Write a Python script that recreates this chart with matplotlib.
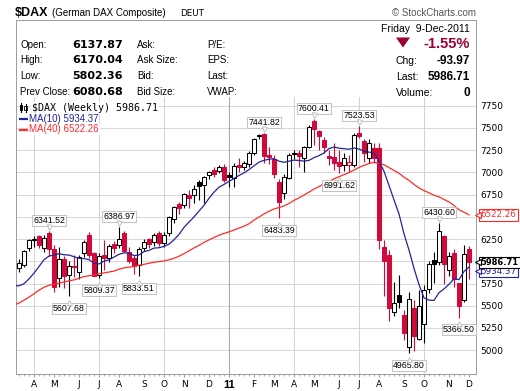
import numpy as np
import pandas as pd
import matplotlib
matplotlib.use('Agg')
import matplotlib.pyplot as plt
import matplotlib.transforms as mtransforms
from matplotlib.patches import Rectangle, Polygon
from matplotlib.lines import Line2D

# $DAX weekly candles, weeks ending on Friday
dates = pd.date_range('2010-03-19', '2011-12-09', freq='W-FRI')

opens = [5920, 5960, 6145, 6235, 6284, 6150, 6320, 6135, 5810, 6030,
         5845, 5950, 5885, 6090, 6300, 6089, 5846, 6070, 6040, 6200,
         6185, 6322, 6108, 6033, 5958, 6145, 6247, 6220, 6314, 6210,
         6320, 6480, 6640, 6635, 6750, 6745, 6895, 6860, 6970, 7030,
         7015, 7064, 6970, 6940, 7080, 7065, 7090, 7221, 7410, 7428,
         7200, 7146, 6895, 6770, 6940, 7205, 7222, 7160, 7290, 7581,
         7469, 7360, 7185, 7169, 7120, 7082, 7085, 7085, 7440, 7356,
         7160, 7270, 7270, 6164, 6070, 5430, 5620, 5396, 5040, 5470,
         5130, 5300, 5690, 6015, 5996, 6284, 5902, 6097, 5752, 5564,
         6137.87]
highs = [6030, 6130, 6250, 6280, 6300, 6290, 6341.52, 6180, 6160, 6060,
         6000, 6070, 6070, 6240, 6330, 6100, 6090, 6240, 6190, 6230,
         6386.97, 6340, 6160, 6070, 6160, 6250, 6260, 6320, 6340, 6330,
         6510, 6620, 6670, 6770, 6800, 6860, 6910, 6960, 7020, 7060,
         7080, 7090, 7000, 7100, 7160, 7130, 7240, 7390, 7435, 7441.82,
         7280, 7200, 6930, 6980, 7220, 7250, 7250, 7300, 7530, 7600.41,
         7480, 7400, 7250, 7326, 7250, 7214, 7200, 7440, 7523.53, 7370,
         7380, 7330, 7330, 6240, 6130, 5770, 5850, 5450, 5660, 5570,
         5680, 5730, 6000, 6100, 6430.60, 6300, 6100, 6140, 5760, 6185,
         6170.04]
lows = [5880, 5940, 6120, 6160, 6150, 6100, 6060, 5660, 5715, 5700,
        5607.68, 5826, 5800, 6050, 6040, 5830, 5809.37, 5900, 5990, 6090,
        6150, 6100, 5980, 5860, 5833.51, 6120, 6150, 6170, 6170, 6160,
        6280, 6430, 6530, 6600, 6600, 6650, 6690, 6650, 6930, 6950,
        6990, 6890, 6840, 6840, 7000, 7030, 7060, 7200, 7380, 7100,
        7090, 6940, 6483.39, 6700, 6920, 7150, 7064, 7000, 7270, 7310,
        7250, 7220, 7080, 7026, 6991.62, 7010, 7000, 7060, 7390, 7120,
        7100, 7100, 6140, 5610, 5330, 5390, 5480, 5120, 4965.80, 4990,
        5110, 5080, 5640, 5760, 5960, 5750, 5830, 5710, 5366.50, 5545,
        5802.36]
closes = [5982, 6120, 6235, 6250, 6180, 6259, 6135, 5715, 6030, 5830,
          5946, 5938, 6050, 6216, 6070, 5834, 6065, 6040, 6170, 6148,
          6247, 6111, 6005, 5951, 6134, 6220, 6197, 6299, 6211, 6300,
          6498, 6605, 6601, 6754, 6716, 6812, 6848, 6947, 7007, 6987,
          7057, 6914, 6947, 7075, 7062, 7102, 7216, 7371, 7426, 7185,
          7178, 6981, 6664, 6946, 7196, 7217, 7180, 7290, 7514, 7492,
          7406, 7280, 7164, 7109, 7070, 7164, 7121, 7420, 7410, 7220,
          7326, 7159, 6236, 5998, 5480, 5535, 5540, 5190, 5573, 5164,
          5501.7, 5676, 5968.3, 5970, 6346, 5966, 6057, 5800, 5493, 6080.68,
          5986.71]
# 40 weekly closes before the first candle (Jun 2009 - Mar 2010), for the MAs
prior_closes = [5050, 4840, 4880, 4720, 4576, 4950, 5190, 5332, 5450, 5310,
                5460, 5520, 5300, 5460, 5700, 5580, 5450, 5630, 5740, 5770,
                5410, 5490, 5690, 5660, 5560, 5820, 5710, 5830, 5950, 5957,
                6040, 5880, 5690, 5610, 5430, 5500, 5720, 5600, 5880, 5945]

# weeks with a labelled high / low
high_marks = [6, 20, 49, 59, 68, 84]
low_marks = [10, 16, 24, 52, 64, 78, 88]

price_ticks = list(range(5000, 7751, 250))

RED = '#d2093b'
MA10_COL = '#23239c'
MA40_COL = '#ff2a2a'
FRAME = '#a0a0a0'

W, H = 520, 391
fig = plt.figure(figsize=(W / 100, H / 100), dpi=100)


def fx(x):
    return x / W


def fy(y):
    return 1 - y / H


ax = fig.add_axes([fx(16), fy(374), (476 - 16) / W, (374 - 97) / H])
ax.set_xlim(-0.6, 91.4)
ax.set_ylim(4732, 7848)

n = len(closes)
xs = np.arange(n)

# month ticks at the first week that starts in a new month
mondays = dates - pd.Timedelta(days=4)
tick_pos, tick_lab, tick_month = [], [], []
for i in range(1, n):
    if mondays[i].month != mondays[i - 1].month:
        m = mondays[i].month
        tick_pos.append(i)
        tick_month.append(m)
        tick_lab.append(str(mondays[i].year)[2:] if m == 1 else 'JFMAMJJASOND'[m - 1])

# grid
for v in price_ticks:
    ax.axhline(v, color='#d9d9d9', lw=0.75, zorder=0)
for p, m in zip(tick_pos, tick_month):
    if m in (1, 4, 7, 10):
        ax.axvline(p, color='#a8a8a8' if m == 1 else '#d4d4d4', lw=0.75, zorder=0)

# candles
prev = [prior_closes[-1]] + closes[:-1]
for i in range(n):
    o, h, l, c = opens[i], highs[i], lows[i], closes[i]
    col = RED if c < prev[i] else 'black'
    ax.vlines(i, l, h, color=col, lw=0.8, zorder=2)
    body = max(abs(c - o), 8)
    ax.add_patch(Rectangle((i - 0.36, min(o, c)), 0.72, body,
                           fc=col if c < o else 'white', ec=col, lw=0.75, zorder=3))

# moving averages
allc = pd.Series(prior_closes + closes)
ma_x = np.arange(-len(prior_closes), n)
ma10 = allc.rolling(10).mean()
ma40 = allc.rolling(40).mean()
ax.plot(ma_x, ma40, color=MA40_COL, lw=0.9, zorder=4)
ax.plot(ma_x, ma10, color=MA10_COL, lw=0.9, zorder=4)

# high / low labels
lab_font = dict(fontsize=6.3, family='Liberation Sans')
box = dict(boxstyle='square,pad=0.12', fc='white', ec='#c4c4c4', lw=0.75)
up = mtransforms.offset_copy(ax.transData, fig=fig, x=0, y=4.2, units='dots')
down = mtransforms.offset_copy(ax.transData, fig=fig, x=0, y=-5.5, units='dots')
for i in high_marks:
    ax.annotate(f'{highs[i]:.2f}', xy=(i, highs[i]), xytext=(0, 7.4),
                textcoords='offset points', ha='center', va='center',
                bbox=box, zorder=6, **lab_font)
    ax.plot(i, highs[i], marker='v', ms=3.6, mfc='white', mec='#c4c4c4',
            mew=0.75, transform=up, zorder=7)
for i in low_marks:
    ax.annotate(f'{lows[i]:.2f}', xy=(i, lows[i]), xytext=(0, -8.8),
                textcoords='offset points', ha='center', va='center',
                bbox=box, zorder=6, **lab_font)
    ax.plot(i, lows[i], marker='^', ms=3.6, mfc='white', mec='#c4c4c4',
            mew=0.75, transform=down, zorder=7)

# price tags on the right (value, colour, weight, size, shift in points)
tags = [(ma40.iloc[-1], MA40_COL, 'normal', 6.3, 0),
        (ma10.iloc[-1], MA10_COL, 'normal', 6.3, -3),
        (closes[-1], 'black', 'bold', 6.0, 0)]
tag_vals = [t[0] for t in tags]

# axes styling
for s in ('left', 'right', 'bottom'):
    ax.spines[s].set_color(FRAME)
    ax.spines[s].set_linewidth(0.75)
ax.spines['top'].set_visible(False)
ax.yaxis.tick_right()
ax.set_yticks(price_ticks)
# labels hidden where a price tag sits on top of them
ax.set_yticklabels(['' if min(abs(v - t) for t in tag_vals) < 110 else str(v)
                    for v in price_ticks])
ax.tick_params(axis='y', length=0, pad=3, labelsize=6.5)
ax.set_xticks(tick_pos)
ax.set_xticklabels(tick_lab)
ax.set_xticks(xs, minor=True)
ax.tick_params(axis='x', which='major', length=2.2, pad=2, labelsize=6.5, color=FRAME)
ax.tick_params(axis='x', which='minor', length=1.2, color=FRAME)
for t, m in zip(ax.get_xticklabels(), tick_month):
    if m == 1:
        t.set_fontweight('bold')
        t.set_family('Liberation Sans')
        t.set_fontsize(8)

blend = mtransforms.blended_transform_factory(ax.transAxes, ax.transData)
for v, col, wt, fs, dy in tags:
    ax.annotate(f'{v:.2f}', xy=(1.0, v), xycoords=('axes fraction', 'data'),
                xytext=(3.2, dy), textcoords='offset points', ha='left', va='center',
                color=col, fontweight=wt, fontsize=fs, family='DejaVu Sans',
                annotation_clip=False, zorder=8,
                bbox=dict(boxstyle='square,pad=0.15', fc='white', ec=col, lw=0.8))
    tip = mtransforms.offset_copy(blend, fig=fig, x=2, y=dy * 100 / 72, units='dots')
    ax.plot(1.0, v, marker='<', ms=3.8, mfc='white', mec=col, mew=0.8,
            clip_on=False, transform=tip, zorder=9)

# legend block
fig.text(fx(32), fy(108), f'$DAX (Weekly) {closes[-1]:.2f}', fontsize=7.2,
         family='DejaVu Sans Mono', va='center', ha='left',
         bbox=dict(boxstyle='square,pad=0.1', fc='white', ec='none'))
fig.text(fx(29), fy(119), f'MA(10) {ma10.iloc[-1]:.2f}', fontsize=7,
         family='Liberation Sans', color=MA10_COL, va='center', ha='left',
         bbox=dict(boxstyle='square,pad=0.1', fc='white', ec='none'))
fig.text(fx(29), fy(129.5), f'MA(40) {ma40.iloc[-1]:.2f}', fontsize=7,
         family='Liberation Sans', color=MA40_COL, va='center', ha='left',
         bbox=dict(boxstyle='square,pad=0.1', fc='white', ec='none'))
fig.add_artist(Line2D([fx(20), fx(28)], [fy(119), fy(119)], color=MA10_COL, lw=1.6))
fig.add_artist(Line2D([fx(20), fx(28)], [fy(129.5), fy(129.5)], color=MA40_COL, lw=1.6))
# small candle glyph
fig.add_artist(Line2D([fx(21), fx(21)], [fy(103), fy(112)], color='black', lw=0.8))
fig.add_artist(Rectangle((fx(19.8), fy(110)), 2.6 / W, 5 / H, fc='black', ec='black', lw=0.6))
fig.add_artist(Line2D([fx(25.5), fx(25.5)], [fy(104), fy(112)], color='black', lw=0.8))
fig.add_artist(Rectangle((fx(24.3), fy(110.5)), 2.6 / W, 4.5 / H, fc='white', ec='black', lw=0.6))

# header and quote box
fig.add_artist(Line2D([fx(16), fx(476)], [fy(19.5), fy(19.5)], color=FRAME, lw=0.75))
fig.add_artist(Line2D([fx(16), fx(16)], [fy(19.5), fy(97)], color=FRAME, lw=0.75))
fig.add_artist(Line2D([fx(476), fx(476)], [fy(19.5), fy(97)], color=FRAME, lw=0.75))

fig.text(fx(15), fy(16), '$DAX', fontsize=9, weight='bold', family='Liberation Sans')
fig.text(fx(52), fy(16), '(German DAX Composite)', fontsize=7, family='Liberation Sans')
fig.text(fx(180), fy(16), 'DEUT', fontsize=6.3, family='DejaVu Sans')
fig.text(fx(476), fy(16), '\u00a9 StockCharts.com', fontsize=7, family='Liberation Sans',
         color='#555555', ha='right')

lbl = dict(fontsize=7, family='Liberation Sans')
val = dict(fontsize=8, family='DejaVu Sans', weight='bold')
rows = [('Open:', f'{opens[-1]:.2f}', 'Ask:', 'P/E:'),
        ('High:', f'{highs[-1]:.2f}', 'Ask Size:', 'EPS:'),
        ('Low:', f'{lows[-1]:.2f}', 'Bid:', 'Last:'),
        ('Prev Close:', f'{closes[-2]:.2f}', 'Bid Size:', 'VWAP:')]
for k, (a, b, c, d) in enumerate(rows):
    yb = fy(47.5 + 15.8 * k)
    fig.text(fx(20.5), yb, a, **lbl)
    fig.text(fx(72.5), yb, b, **val)
    fig.text(fx(137), yb, c, **lbl)
    fig.text(fx(207), yb, d, **lbl)

chg = closes[-1] - closes[-2]
pct = chg / closes[-2] * 100
rv = dict(fontsize=8.5, family='Liberation Sans', weight='bold', ha='right')
fig.text(fx(470), fy(31.5), 'Friday  ' + dates[-1].strftime('%-d-%b-%Y'),
         fontsize=7.5, family='Liberation Sans', ha='right')
fig.add_artist(Polygon([(fx(396), fy(37.5)), (fx(410), fy(37.5)), (fx(403), fy(47.5))],
                       closed=True, fc='#990033', ec='none'))
fig.text(fx(470), fy(48), f'{pct:.2f}%', fontsize=10.5, family='Liberation Sans',
         weight='bold', color='#990033', ha='right')
fig.text(fx(396), fy(64), 'Chg:', fontsize=7.5, family='Liberation Sans')
fig.text(fx(470), fy(64), f'{chg:.2f}', **rv)
fig.text(fx(396), fy(80), 'Last:', fontsize=7.5, family='Liberation Sans')
fig.text(fx(470), fy(80), f'{closes[-1]:.2f}', **rv)
fig.text(fx(396), fy(95.5), 'Volume:', fontsize=7.5, family='Liberation Sans')
fig.text(fx(470), fy(95.5), '0', **rv)

fig.savefig('out.png', dpi=100)
